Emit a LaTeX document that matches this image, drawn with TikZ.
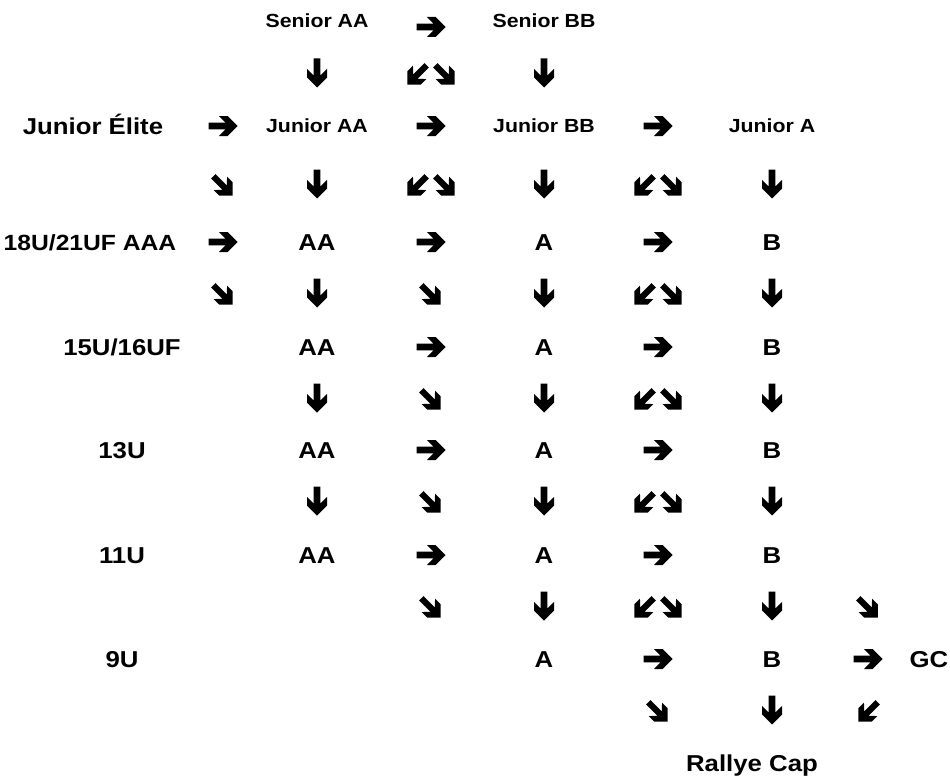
\documentclass[tikz,border=0pt]{standalone}
\usepackage{fontspec}
\setmainfont{Liberation Sans}[FakeStretch=1.12]
\tikzset{
	big/.style={font=\bfseries\fontsize{23}{26}\selectfont, anchor=base, yshift=-8.2pt, inner sep=0pt},
	small/.style={font=\bfseries\fontsize{19}{22}\selectfont, anchor=base, yshift=-6.8pt, inner sep=0pt},
	pics/est/.style={code={\fill (-14.5,3.3) -- (2.5,3.3) -- (-4,10) -- (4.5,10) -- (14.5,0) -- (4.5,-10) -- (-4,-10) -- (2.5,-3.3) -- (-14.5,-3.3) -- cycle;}},
	pics/sud/.style={code={\pic[rotate=-90] {est};}},
	pics/se/.style={code={\pic[rotate=-45,scale=.95] at (0,2) {est};}},
	pics/so/.style={code={\pic[rotate=-135,scale=.95] at (0,2) {est};}},
	pics/paire/.style={code={\pic at (-14,0) {so}; \pic at (14,0) {se};}},
}
\begin{document}
\begin{tikzpicture}[x=1pt,y=-1pt]
	\useasboundingbox (0,0) rectangle (950,776);
	% Senior
	\node[small] (sAA) at (317,21) {Senior AA};
	\node[small] (sBB) at (544,21) {Senior BB};
	\pic at (431,27) {est};
	\pic at (317,73) {sud};
	\pic at (431,73) {paire};
	\pic at (544,73) {sud};
	% Junior
	\node[big] (jE) at (93,126) {Junior Élite};
	\node[small] (jAA) at (317,126) {Junior AA};
	\node[small] (jBB) at (544,126) {Junior BB};
	\node[small] (jA) at (772,126) {Junior A};
	\pic at (223,126) {est};
	\pic at (431,126) {est};
	\pic at (658,126) {est};
	\pic at (223,184) {se};
	\pic at (317,184) {sud};
	\pic at (431,184) {paire};
	\pic at (544,184) {sud};
	\pic at (658,184) {paire};
	\pic at (772,184) {sud};
	% 18U
	\node[big,font=\bfseries\fontsize{22}{26}\selectfont] (m18) at (90,242) {18U/21UF AAA};
	\node[big] (aa18) at (317,242) {AA};
	\node[big] (a18) at (544,242) {A};
	\node[big] (b18) at (772,242) {B};
	\pic at (223,242) {est};
	\pic at (431,242) {est};
	\pic at (658,242) {est};
	\pic at (223,293) {se};
	\pic at (317,293) {sud};
	\pic at (431,293) {se};
	\pic at (544,293) {sud};
	\pic at (658,293) {paire};
	\pic at (772,293) {sud};
	% 15U
	\node[big] (m15) at (122,347) {15U/16UF};
	\node[big] (aa15) at (317,347) {AA};
	\node[big] (a15) at (544,347) {A};
	\node[big] (b15) at (772,347) {B};
	\pic at (431,347) {est};
	\pic at (658,347) {est};
	\pic at (317,398) {sud};
	\pic at (431,398) {se};
	\pic at (544,398) {sud};
	\pic at (658,398) {paire};
	\pic at (772,398) {sud};
	% 13U
	\node[big] (m13) at (122,450) {13U};
	\node[big] (aa13) at (317,450) {AA};
	\node[big] (a13) at (544,450) {A};
	\node[big] (b13) at (772,450) {B};
	\pic at (431,450) {est};
	\pic at (658,450) {est};
	\pic at (317,501) {sud};
	\pic at (431,501) {se};
	\pic at (544,501) {sud};
	\pic at (658,501) {paire};
	\pic at (772,501) {sud};
	% 11U
	\node[big] (m11) at (122,555) {11U};
	\node[big] (aa11) at (317,555) {AA};
	\node[big] (a11) at (544,555) {A};
	\node[big] (b11) at (772,555) {B};
	\pic at (431,555) {est};
	\pic at (658,555) {est};
	\pic at (431,606) {se};
	\pic at (544,606) {sud};
	\pic at (658,606) {paire};
	\pic at (772,606) {sud};
	\pic at (868,606) {se};
	% 9U
	\node[big] (m9) at (122,659) {9U};
	\node[big] (a9) at (544,659) {A};
	\node[big] (b9) at (772,659) {B};
	\node[big] (gc) at (929,659) {GC};
	\pic at (658,659) {est};
	\pic at (868,659) {est};
	\pic at (658,710) {se};
	\pic at (772,710) {sud};
	\pic at (868,710) {so};
	% Rallye Cap
	\node[big] (rc) at (752,763) {Rallye Cap};
\end{tikzpicture}
\end{document}
